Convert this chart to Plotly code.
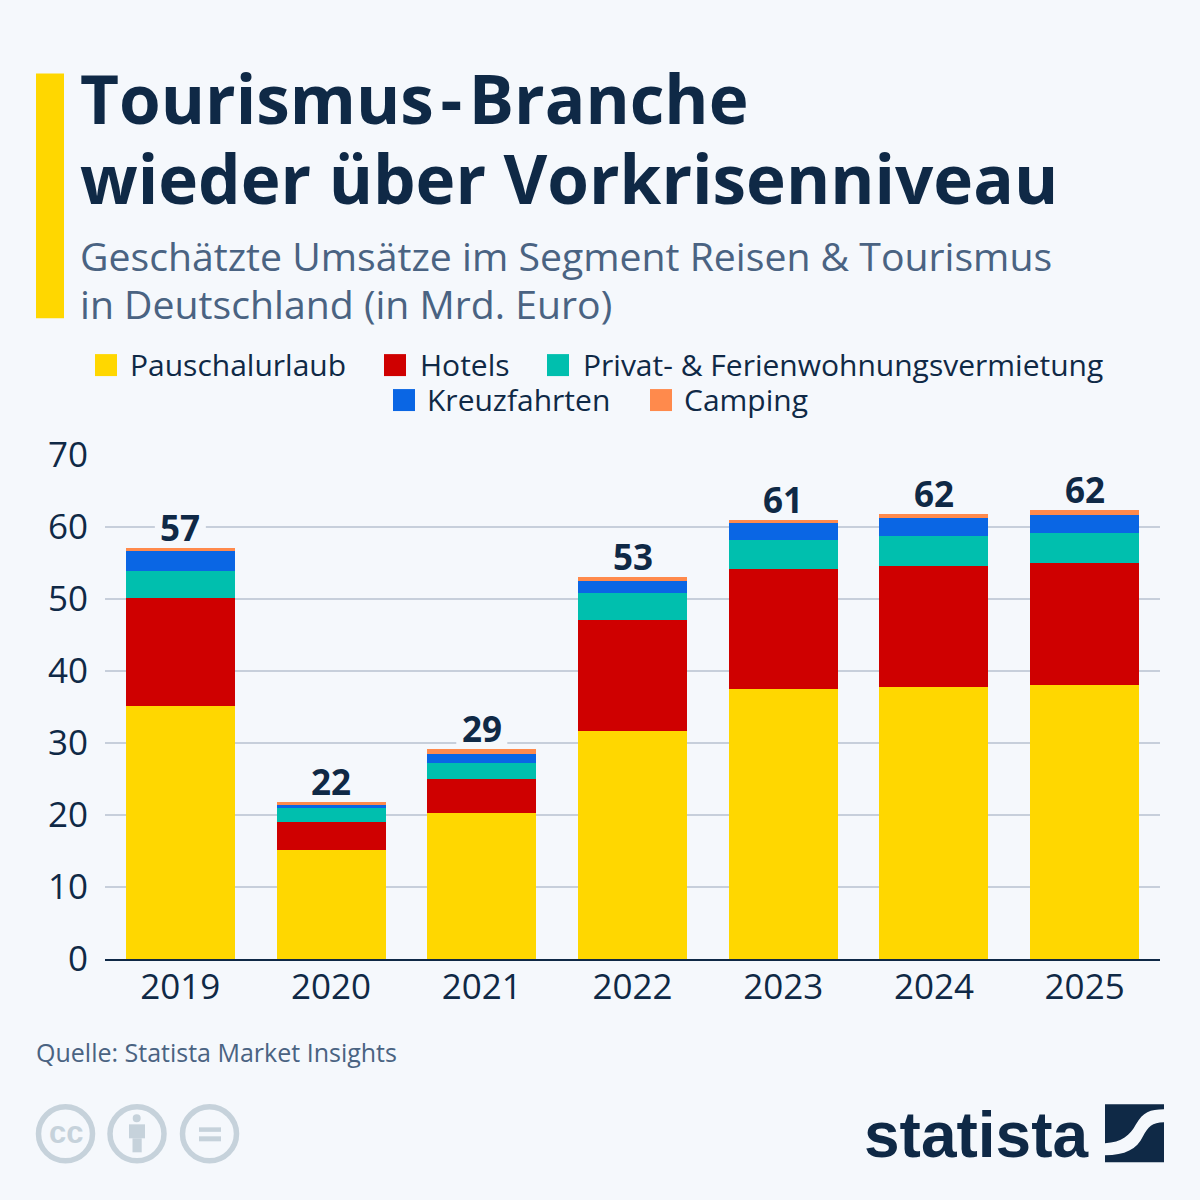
import plotly.graph_objects as go

years = ["2019", "2020", "2021", "2022", "2023", "2024", "2025"]
pauschal = [35.15, 15.2, 20.3, 31.7, 37.5, 37.8, 38.05]
hotels = [14.95, 3.85, 4.7, 15.4, 16.65, 16.85, 16.95]
privat = [3.8, 1.95, 2.25, 3.7, 4.05, 4.05, 4.15]
kreuz = [2.75, 0.4, 1.25, 1.7, 2.3, 2.6, 2.55]
camping = [0.4, 0.45, 0.7, 0.55, 0.5, 0.55, 0.6]
totals = [57, 22, 29, 53, 61, 62, 62]
yticks = [0, 10, 20, 30, 40, 50, 60, 70]

series = [
    ("Pauschalurlaub", pauschal, "#ffd700"),
    ("Hotels", hotels, "#cf0000"),
    ("Privat- & Ferienwohnungsvermietung", privat, "#00bfae"),
    ("Kreuzfahrten", kreuz, "#0a66e4"),
    ("Camping", camping, "#ff8a4c"),
]

NAVY = "#0f2946"
SLATE = "#4a6382"
ICON = "#c6d2db"
BG = "#f5f8fc"
FONT = "Open Sans"

# plot area in page pixels
LEFT, RIGHT, TOP, BOTTOM = 105, 1160, 455, 959.5


def px(x):
    return (x - LEFT) / (RIGHT - LEFT)


def py(y):
    return (BOTTOM - y) / (BOTTOM - TOP)


def text(x, y, s, size, color=NAVY, weight=400, family=FONT, xanchor="left", **kw):
    fig.add_annotation(xref="paper", yref="paper", x=px(x), y=py(y), text=s, showarrow=False,
                       xanchor=xanchor, yanchor="middle", align="left", borderpad=0, borderwidth=0,
                       font=dict(family=family, size=size, color=color, weight=weight), **kw)


def rect(x0, y0, x1, y1, color):
    fig.add_shape(type="rect", xref="paper", yref="paper", x0=px(x0), x1=px(x1), y0=py(y0), y1=py(y1),
                  fillcolor=color, line_width=0)


def path(points, color):
    # points: list of (command, x, y, ...) in page pixels
    d = ""
    for p in points:
        d += p[0]
        nums = p[1:]
        for i in range(0, len(nums), 2):
            d += f"{px(nums[i]):.5f},{py(nums[i + 1]):.5f} "
    fig.add_shape(type="path", xref="paper", yref="paper", path=d + "Z", fillcolor=color, line_width=0)


fig = go.Figure()

for name, values, color in series:
    fig.add_trace(go.Bar(x=years, y=values, name=name, marker=dict(color=color, line_width=0), showlegend=False))

fig.update_layout(
    barmode="stack",
    bargap=0.277,
    width=1200,
    height=1200,
    autosize=False,
    margin=dict(l=LEFT, r=1200 - RIGHT, t=TOP, b=1200 - BOTTOM, pad=0),
    paper_bgcolor=BG,
    plot_bgcolor=BG,
    font=dict(family=FONT, color=NAVY),
    xaxis=dict(type="category", range=[-0.5, 6.5], showgrid=False, showline=True, linecolor=NAVY, linewidth=1.5,
               ticks="", tickfont=dict(size=35, color=NAVY), ticklabelstandoff=-4),
    yaxis=dict(range=[0, 70], tickvals=yticks, showgrid=True, gridcolor="#c7cfdb", gridwidth=1.5,
               zeroline=False, showline=False, ticks="", tickfont=dict(size=35, color=NAVY),
               ticklabelstandoff=16),
)

# totals above the bars, with a patch that interrupts the gridlines
for i, total in enumerate(totals):
    top = sum(values[i] for _, values, _ in series)
    fig.add_shape(type="rect", layer="between", xref="x", yref="y", xsizemode="pixel", ysizemode="pixel",
                  xanchor=i, yanchor=top, x0=-25.5, x1=25.5, y0=4, y1=40, fillcolor=BG, line_width=0)
    fig.add_annotation(x=i, y=top, text=str(total), showarrow=False, yanchor="bottom", yshift=-5,
                       font=dict(family=FONT, size=35, color=NAVY, weight=700))

# header
rect(36, 73, 64, 318, "#ffd700")
text(80, 97.5, "Tourismus\u200a-\u200aBranche", 67.4, weight=700)
text(80, 177.5, "wieder über Vorkrisenniveau", 67.4, weight=700)
text(80, 255, "Geschätzte Umsätze im Segment Reisen &amp; Tourismus", 39.2, SLATE)
text(80, 303, "in Deutschland (in Mrd. Euro)", 39.2, SLATE)

# legend
legend_pos = [(95, 130, 365), (384, 420, 365), (547, 583, 365), (393, 427, 400), (650, 684, 400)]
for (name, values, color), (sx, tx, ly) in zip(series, legend_pos):
    rect(sx, ly - 11, sx + 22, ly + 11, color)
    text(tx, ly - 1, name.replace("&", "&amp;"), 30)

text(36, 1053, "Quelle: Statista Market Insights", 25, SLATE)

# licence icons
for cx in [65.5, 137, 209.5]:
    fig.add_shape(type="circle", xref="paper", yref="paper", x0=px(cx - 27), x1=px(cx + 27),
                  y0=py(1134.5 + 27), y1=py(1134.5 - 27), line=dict(color=ICON, width=5.5))
text(65.5, 1133, "cc", 31, ICON, 700, "Liberation Sans", xanchor="center")
fig.add_shape(type="circle", xref="paper", yref="paper", x0=px(132.7), x1=px(140.7), y0=py(1123), y1=py(1115),
              fillcolor=ICON, line_width=0)
rect(129, 1125, 145, 1139, ICON)
rect(132.5, 1139, 141.7, 1153, ICON)
rect(199, 1128, 221, 1132.5, ICON)
rect(199, 1137, 221, 1142, ICON)

# logo
text(976, 1136, "statista", 64, NAVY, 700, "Liberation Sans", xanchor="center")
path([("M", 1105, 1105), ("L", 1164, 1105), ("L", 1164, 1110),
      ("C", 1150, 1110, 1143, 1113, 1136, 1125), ("C", 1130, 1136, 1122, 1143, 1105, 1144)], NAVY)
path([("M", 1164, 1123), ("L", 1164, 1163), ("L", 1105, 1163), ("L", 1105, 1156),
      ("C", 1125, 1156, 1137, 1150, 1143, 1137), ("C", 1148, 1128, 1152, 1123, 1164, 1123)], NAVY)

fig.write_html("out.html", config=dict(displayModeBar=False), post_script="document.body.style.margin = '0';")
